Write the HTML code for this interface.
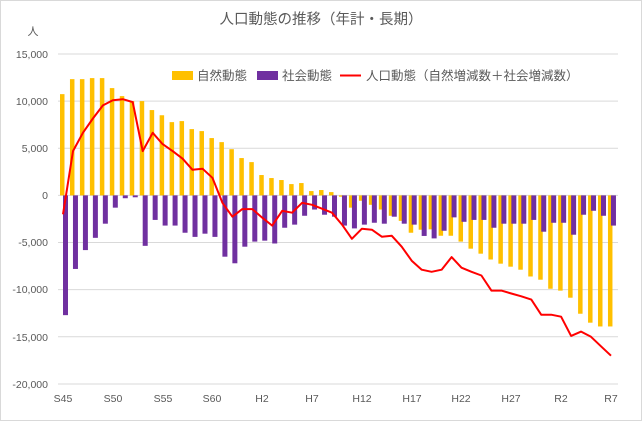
<!DOCTYPE html>
<html><head><meta charset="utf-8">
<style>
html,body{margin:0;padding:0;background:#fff;}
svg{display:block;font-family:"Liberation Sans","Noto Sans CJK JP",sans-serif;}
</style></head>
<body>
<svg id="c" width="642" height="421" viewBox="0 0 642 421" xmlns="http://www.w3.org/2000/svg">
<rect x="0.5" y="0.5" width="641" height="420" fill="#fff" stroke="#d9d9d9"/>
<text x="321" y="24" text-anchor="middle" font-size="14.5" fill="#595959">人口動態の推移（年計・長期）</text>
<text x="33" y="35" text-anchor="middle" font-size="11" fill="#595959">人</text>
<g stroke="#d9d9d9" stroke-width="1">
<line x1="58" x2="618" y1="54" y2="54"/>
<line x1="58" x2="618" y1="101.1" y2="101.1"/>
<line x1="58" x2="618" y1="148.3" y2="148.3"/>
<line x1="58" x2="618" y1="242.5" y2="242.5"/>
<line x1="58" x2="618" y1="289.6" y2="289.6"/>
<line x1="58" x2="618" y1="336.8" y2="336.8"/>
<line x1="58" x2="618" y1="384" y2="384"/>
<line x1="58" x2="618" y1="195.4" y2="195.4"/>
</g>
<g font-size="10.5" fill="#595959" text-anchor="end">
<text x="48" y="58">15,000</text>
<text x="48" y="105">10,000</text>
<text x="48" y="152">5,000</text>
<text x="48" y="199">0</text>
<text x="48" y="246">-5,000</text>
<text x="48" y="293">-10,000</text>
<text x="48" y="341">-15,000</text>
<text x="48" y="388">-20,000</text>
</g>
<g font-size="10.5" fill="#595959" text-anchor="middle">
<text x="63" y="402">S45</text>
<text x="113" y="402">S50</text>
<text x="163" y="402">S55</text>
<text x="212" y="402">S60</text>
<text x="262" y="402">H2</text>
<text x="312" y="402">H7</text>
<text x="362" y="402">H12</text>
<text x="412" y="402">H17</text>
<text x="461" y="402">H22</text>
<text x="511" y="402">H27</text>
<text x="561" y="402">R2</text>
<text x="611" y="402">R7</text>
</g>
<g id="bars"></g>
<polyline id="ln" fill="none" stroke="#ff0000" stroke-width="2" stroke-linejoin="round"/>
<g font-size="12.5" fill="#595959">
<rect x="172" y="71" width="21" height="9" fill="#ffc000"/>
<text x="197" y="80">自然動態</text>
<rect x="257" y="71" width="21" height="9" fill="#7030a0"/>
<text x="282" y="80">社会動態</text>
<line x1="340" x2="361" y1="75.5" y2="75.5" stroke="#ff0000" stroke-width="2"/>
<text x="366" y="80">人口動態（自然増減数＋社会増減数）</text>
</g>
</svg>
<script>
var nat=[10.74,12.33,12.33,12.44,12.44,11.38,10.53,10.0,10.0,9.05,8.5,7.77,7.88,7.03,6.82,6.08,5.65,4.9,3.96,3.53,
2.16,1.84,1.63,1.2,1.31,0.46,0.57,0.35,-0.14,-1.3,-0.57,-1.0,-1.5,-2.16,-2.7,-3.96,-3.64,-3.6,-4.28,-4.28,
-4.9,-5.65,-6.18,-6.8,-7.24,-7.56,-7.88,-8.6,-8.94,-9.9,-10.1,-10.85,-12.55,-13.5,-13.9,-13.9];
var soc=[-12.7,-7.8,-5.8,-4.5,-3.0,-1.3,-0.3,-0.2,-5.35,-2.6,-3.2,-3.2,-3.96,-4.4,-4.06,-4.4,-6.5,-7.2,-5.44,-4.9,
-4.8,-5.1,-3.43,-3.1,-2.16,-1.5,-2.05,-2.26,-3.2,-3.5,-3.1,-2.9,-3.0,-2.26,-3.0,-3.1,-4.3,-4.56,-3.75,-2.33,
-2.8,-2.6,-2.6,-3.43,-3.0,-3.0,-3.0,-2.6,-3.85,-2.9,-2.9,-4.17,-2.05,-1.63,-2.16,-3.2];
var tot=[-2.0,4.7,6.64,8.16,9.54,10.1,10.2,9.9,4.7,6.64,5.44,4.7,3.89,2.72,2.83,1.87,-0.78,-2.26,-1.45,-1.45,
-2.37,-3.2,-1.63,-1.84,-0.78,-1.0,-1.41,-1.84,-3.1,-4.6,-3.53,-3.64,-4.38,-4.28,-5.44,-6.93,-7.88,-8.1,-7.88,-6.54,
-7.67,-8.1,-8.5,-10.1,-10.1,-10.4,-10.7,-11.05,-12.65,-12.65,-12.86,-14.9,-14.45,-15.0,-16.0,-17.0];
function Y(v){return 195.4-v*9.429;}
var ns="http://www.w3.org/2000/svg",g=document.getElementById("bars"),pts=[];
function r(x,v,w,col){var e=document.createElementNS(ns,"rect");var y0=Y(0),y1=Y(v);
e.setAttribute("x",x);e.setAttribute("width",w);e.setAttribute("y",Math.min(y0,y1));
e.setAttribute("height",Math.abs(y1-y0));e.setAttribute("fill",col);g.appendChild(e);}
for(var i=0;i<56;i++){var c=63+i*9.963;
r(c-3,nat[i],4.5,"#ffc000");r(c,soc[i],5,"#7030a0");
pts.push(c.toFixed(1)+","+Y(tot[i]).toFixed(1));}
document.getElementById("ln").setAttribute("points",pts.join(" "));
</script>
</body></html>
